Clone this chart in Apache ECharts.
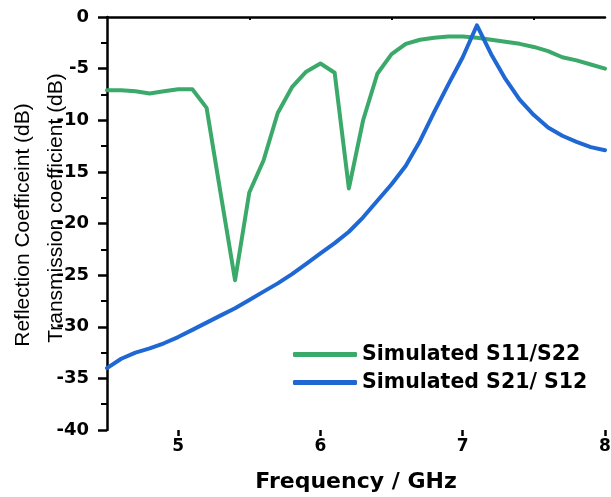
<!DOCTYPE html>
<html>
<head>
<meta charset="utf-8">
<script src="https://cdn.jsdelivr.net/npm/echarts@6/dist/echarts.min.js"></script>
<style>
html,body{margin:0;padding:0;background:#fff;}
#chart{width:611px;height:497px;}
</style>
</head>
<body>
<div id="chart"></div>
<script>
var freqS11 = [4.5,4.6,4.7,4.8,4.9,5.0,5.1,5.2,5.3,5.4,5.5,5.6,5.7,5.8,5.9,6.0,6.1,6.2,6.3,6.4,6.5,6.6,6.7,6.8,6.9,7.0,7.1,7.2,7.3,7.4,7.5,7.6,7.7,7.8,7.9,8.0];
var s11 = [-7.1,-7.1,-7.2,-7.4,-7.2,-7.0,-7.0,-8.8,-17.2,-25.5,-17.0,-13.9,-9.3,-6.8,-5.3,-4.5,-5.4,-16.6,-10.0,-5.5,-3.6,-2.6,-2.2,-2.0,-1.9,-1.9,-2.0,-2.2,-2.4,-2.6,-2.9,-3.3,-3.9,-4.2,-4.6,-5.0];
var freqS21 = [4.5,4.6,4.7,4.8,4.9,5.0,5.1,5.2,5.3,5.4,5.5,5.6,5.7,5.8,5.9,6.0,6.1,6.2,6.3,6.4,6.5,6.6,6.7,6.8,6.9,7.0,7.1,7.2,7.3,7.4,7.5,7.6,7.7,7.8,7.9,8.0];
var s21 = [-34.0,-33.1,-32.5,-32.1,-31.6,-31.0,-30.3,-29.6,-28.9,-28.2,-27.4,-26.6,-25.8,-24.9,-23.9,-22.9,-21.9,-20.8,-19.4,-17.8,-16.2,-14.4,-12.0,-9.2,-6.5,-3.9,-0.8,-3.6,-6.0,-8.0,-9.5,-10.7,-11.5,-12.1,-12.6,-12.9];
var xMajorTicks = [5, 6, 7, 8];
var xMinorTicks = [5.5, 6.5, 7.5];
var seriesNames = ['Simulated S11/S22', 'Simulated S21/ S12'];
var xTitle = 'Frequency / GHz';
var yTitle1 = 'Reflection Coefficeint (dB)';
var yTitle2 = 'Transmission coefficient (dB)';

function pairs(xs, ys){ return xs.map(function(x,i){ return [x, ys[i]]; }); }

var chart = echarts.init(document.getElementById('chart'), null, {renderer:'canvas'});
var BOLD = '"DejaVu Sans", sans-serif';
var FONT = '"Liberation Sans", Arial, sans-serif';
var option = {
  backgroundColor: '#fff',
  animation: false,
  grid: {left:107, right:6, top:17, bottom:67, containLabel:false, outerBoundsMode:'none'},
  xAxis: [
    {type:'value', min:4.5, max:8, position:'bottom',
     axisLine:{show:true, lineStyle:{color:'#000', width:2.5}},
     axisTick:{show:true, length:3, customValues:xMinorTicks, lineStyle:{color:'#000', width:2}},
     axisLabel:{show:false}, splitLine:{show:false}},
    {type:'value', min:4.5, max:8, position:'bottom',
     axisLine:{show:false},
     axisTick:{show:true, length:6, customValues:xMajorTicks, lineStyle:{color:'#000', width:2.5}},
     axisLabel:{show:true, customValues:xMajorTicks, margin:8, color:'#000', fontSize:17, fontWeight:'bold', fontFamily:BOLD},
     name:xTitle, nameLocation:'middle', nameGap:41,
     nameTextStyle:{color:'#000', fontSize:22, fontWeight:'bold', fontFamily:BOLD},
     splitLine:{show:false}}
  ],
  yAxis: {type:'value', min:-40, max:0, interval:5,
    axisLine:{show:true, lineStyle:{color:'#000', width:2.5}},
    axisTick:{show:true, length:9, lineStyle:{color:'#000', width:2.5}},
    minorTick:{show:true, splitNumber:2, length:6, lineStyle:{color:'#000', width:2}},
    axisLabel:{color:'#000', fontSize:18, fontWeight:'bold', fontFamily:BOLD, margin:18},
    splitLine:{show:false}},
  legend: {
    orient:'vertical', left:288, top:339, itemWidth:64, itemHeight:5, itemGap:7,
    icon:'roundRect',
    textStyle:{color:'#000', fontSize:20.5, fontWeight:'bold', fontFamily:BOLD},
    data: seriesNames
  },
  graphic: [
    {type:'text', rotation:Math.PI/2, x:23, y:225,
     style:{text:yTitle1, fill:'#000', font:'21px ' + FONT, textAlign:'center', textVerticalAlign:'middle'}},
    {type:'text', rotation:Math.PI/2, x:56, y:208,
     style:{text:yTitle2, fill:'#000', font:'21px ' + FONT, textAlign:'center', textVerticalAlign:'middle'}}
  ],
  series: [
    {name:seriesNames[0], type:'line', xAxisIndex:0, data:pairs(freqS11, s11), showSymbol:false, symbol:'none',
     lineStyle:{color:'#3BA96A', width:4, join:'round', cap:'round'}, itemStyle:{color:'#3BA96A'}},
    {name:seriesNames[1], type:'line', xAxisIndex:0, data:pairs(freqS21, s21), showSymbol:false, symbol:'none',
     lineStyle:{color:'#1F68D4', width:4, join:'round', cap:'round'}, itemStyle:{color:'#1F68D4'}}
  ]
};
chart.setOption(option);
</script>
</body>
</html>
